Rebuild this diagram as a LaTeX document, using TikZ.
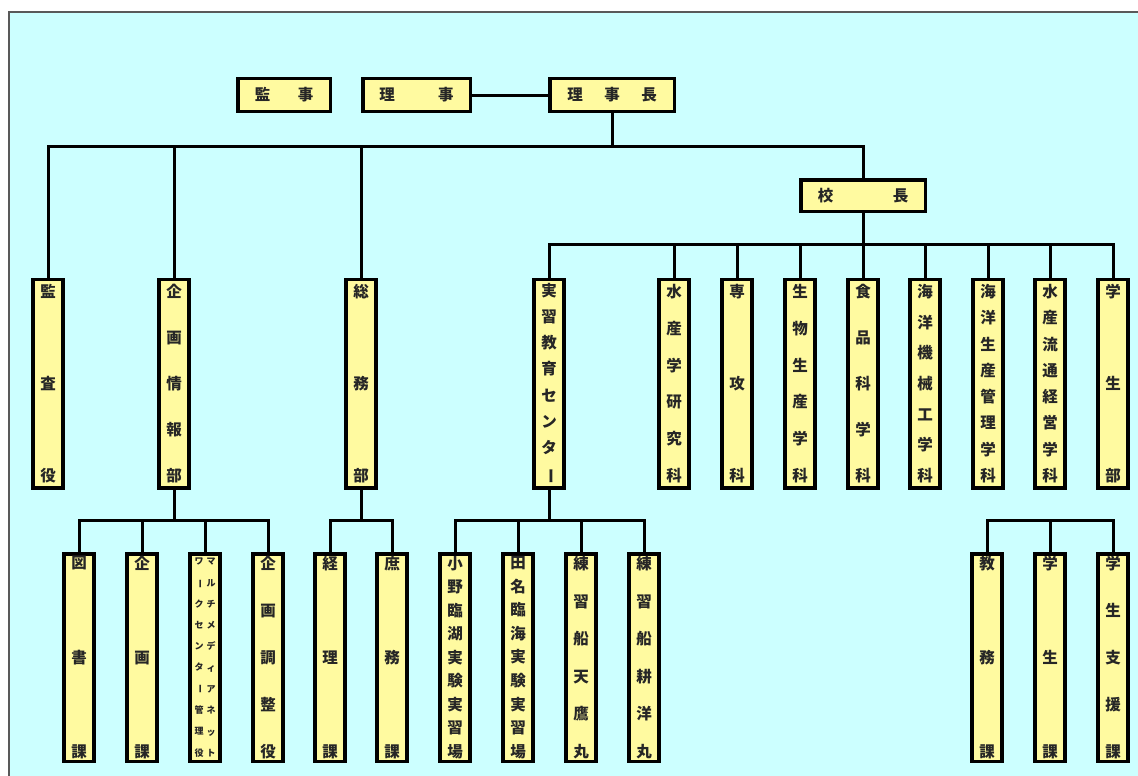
\documentclass[tikz,border=0pt]{standalone}
\usepackage{fontspec}
\usepackage{graphicx}
\newfontfamily\jp{Noto Sans CJK JP}
\definecolor{bgc}{RGB}{204,255,255}
\definecolor{boxc}{RGB}{255,250,160}
\makeatletter
\newcommand{\vstack}[3]{\parbox[c][#2][s]{#1}{\centering\let\vsep\relax
  \@tfor\vch:=#3\do{\vsep\mbox{\vch}\par\let\vsep\vfill}}}
\makeatother
\newcommand{\chouon}{\rotatebox[origin=c]{-90}{ー}}
\begin{document}
\begin{tikzpicture}[x=1pt,y=-1pt,
  box/.style={draw=black, line width=3.5pt, fill=boxc, inner sep=0pt,
    font=\jp\bfseries\fontsize{15.5}{17}\selectfont, text=black!85},
  hbox/.style={box, minimum height=32.5pt},
  midbox/.style={box, minimum width=30pt, minimum height=208.5pt},
  lowbox/.style={box, minimum width=30pt, minimum height=207.5pt},
  conn/.style={draw=black, line width=3pt}]
\useasboundingbox (0,0) rectangle (1138,776);
\clip (0,0) rectangle (1138,776);
\fill[white] (0,0) rectangle (1138,776);
\draw[draw=black!65, line width=1.2pt, fill=bgc] (9,12) rectangle (1160,800);
% top row
\node[hbox, minimum width=92.5pt] (kanji) at (284,95) {監\hspace{27.5pt}事};
\node[hbox, minimum width=107.5pt] (riji) at (416.5,95) {理\hspace{43.5pt}事};
\node[hbox, minimum width=124.5pt] (rijicho) at (612,95) {理\hspace{21.5pt}事\hspace{21.5pt}長};
\node[hbox, minimum width=124.5pt, minimum height=31.5pt] (kocho) at (863,195.5) {校\hspace{59.5pt}長};
% middle row
\node[midbox] (kansa) at (48,383.5) {\vstack{20pt}{197pt}{監査役}};
\node[midbox] (kikaku) at (174,383.5) {\vstack{20pt}{197pt}{企画情報部}};
\node[midbox] (somu) at (361,383.5) {\vstack{20pt}{197pt}{総務部}};
\node[midbox] (jisshu) at (549,383.5) {\vstack{20pt}{197pt}{実習教育センタ\chouon}};
\node[midbox] (kenkyu) at (674,383.5) {\vstack{20pt}{197pt}{水産学研究科}};
\node[midbox] (senko) at (737,383.5) {\vstack{20pt}{197pt}{専攻科}};
\node[midbox] (seibutsu) at (800,383.5) {\vstack{20pt}{197pt}{生物生産学科}};
\node[midbox] (shokuhin) at (863,383.5) {\vstack{20pt}{197pt}{食品科学科}};
\node[midbox] (kikai) at (925,383.5) {\vstack{20pt}{197pt}{海洋機械工学科}};
\node[midbox] (kaiyo) at (988,383.5) {\vstack{20pt}{197pt}{海洋生産管理学科}};
\node[midbox] (ryutsu) at (1050,383.5) {\vstack{20pt}{197pt}{水産流通経営学科}};
\node[midbox] (gakusei) at (1113,383.5) {\vstack{20pt}{197pt}{学生部}};
% bottom row
\node[lowbox] (tosho) at (79,657.5) {\vstack{20pt}{201pt}{図書課}};
\node[lowbox] (kikakuka) at (142,657.5) {\vstack{20pt}{201pt}{企画課}};
\node[lowbox] (mm) at (205,657.5) {\fontsize{9}{10}\selectfont\vstack{10pt}{198pt}{ワ\chouon クセンタ\chouon 管理役}\hspace{2pt}\vstack{10pt}{198pt}{マルチメディアネット}};
\node[lowbox] (chosei) at (268,657.5) {\vstack{20pt}{201pt}{企画調整役}};
\node[lowbox] (keiri) at (330,657.5) {\vstack{20pt}{201pt}{経理課}};
\node[lowbox] (shomu) at (392,657.5) {\vstack{20pt}{201pt}{庶務課}};
\node[lowbox] (ono) at (455,657.5) {\vstack{20pt}{201pt}{小野臨湖実験実習場}};
\node[lowbox] (tana) at (518,657.5) {\vstack{20pt}{201pt}{田名臨海実験実習場}};
\node[lowbox] (tenyo) at (581,657.5) {\vstack{20pt}{201pt}{練習船天鷹丸}};
\node[lowbox] (koyo) at (644,657.5) {\vstack{20pt}{201pt}{練習船耕洋丸}};
\node[lowbox] (kyomu) at (987,657.5) {\vstack{20pt}{201pt}{教務課}};
\node[lowbox] (gakuseika) at (1050,657.5) {\vstack{20pt}{201pt}{学生課}};
\node[lowbox] (shien) at (1113,657.5) {\vstack{20pt}{201pt}{学生支援課}};
% bus coordinates
\coordinate (bus1) at (612,146);
\coordinate (bus2) at (863,244);
\coordinate (bus3) at (0,520);
% connectors
\draw[conn] (riji.east) -- (rijicho.west);
\draw[conn] (rijicho.south) -- (bus1);
\draw[conn] (kansa.north) |- (bus1 -| kocho.north) -- (kocho.north);
\draw[conn] (kikaku.north) -- (kikaku.north |- bus1);
\draw[conn] (somu.north) -- (somu.north |- bus1);
\draw[conn] (kocho.south) -- (shokuhin.north);
\draw[conn] (jisshu.north) |- (bus2 -| gakusei.north) -- (gakusei.north);
\foreach \n in {kenkyu,senko,seibutsu,kikai,kaiyo,ryutsu}
  \draw[conn] (\n.north) -- (\n.north |- bus2);
% lower groups
\draw[conn] (tosho.north) |- (bus3 -| chosei.north) -- (chosei.north);
\draw[conn] (kikaku.south) -- (kikaku.south |- bus3);
\draw[conn] (kikakuka.north) -- (kikakuka.north |- bus3);
\draw[conn] (mm.north) -- (mm.north |- bus3);
\draw[conn] (keiri.north) |- (bus3 -| shomu.north) -- (shomu.north);
\draw[conn] (somu.south) -- (somu.south |- bus3);
\draw[conn] (ono.north) |- (bus3 -| koyo.north) -- (koyo.north);
\draw[conn] (jisshu.south) -- (jisshu.south |- bus3);
\draw[conn] (tana.north) -- (tana.north |- bus3);
\draw[conn] (tenyo.north) -- (tenyo.north |- bus3);
\draw[conn] (kyomu.north) |- (bus3 -| shien.north) -- (shien.north);
\draw[conn] (gakuseika.north) -- (gakuseika.north |- bus3);
\end{tikzpicture}
\end{document}
